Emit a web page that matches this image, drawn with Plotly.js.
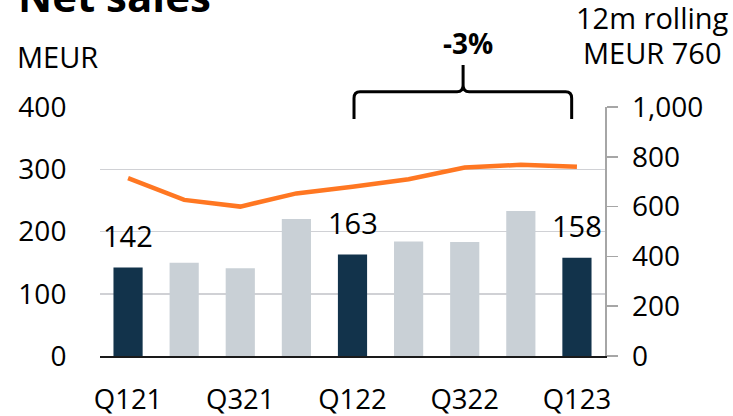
<!DOCTYPE html>
<html>
<head>
<meta charset="utf-8">
<script src="https://cdn.plot.ly/plotly-3.0.1.min.js"></script>
<style>
html,body{margin:0;padding:0;background:#fff;}
#chart{width:733px;height:416px;}
</style>
</head>
<body>
<div id="chart"></div>
<script>
// ---- data ----
const quarters = ['Q121','Q221','Q321','Q421','Q122','Q222','Q322','Q422','Q123'];
const netSales = [142, 150, 141, 220, 163, 184, 183, 233, 158];
const rolling12m = [714, 627, 600, 653, 680, 710, 757, 768, 760];
const xTickLabels = ['Q121','Q321','Q122','Q322','Q123'];
const leftTicks = [0, 100, 200, 300, 400];
const rightTicks = [0, 200, 400, 600, 800, 1000];
const changeText = '-3%';
const rollingText = ['12m rolling', 'MEUR 760'];

// ---- styles ----
const FONT = 'Open Sans, Noto Sans, sans-serif';
const DARK = '#12334b';
const GRAY = '#c9d0d6';
const ORANGE = '#ff7722';

const barColors = quarters.map(q => q.startsWith('Q1') ? DARK : GRAY);

const traces = [
  {
    type: 'bar', x: quarters, y: netSales,
    marker: {color: barColors}, hoverinfo: 'skip', showlegend: false
  },
  {
    type: 'scatter', mode: 'lines', x: quarters, y: rolling12m, yaxis: 'y2',
    line: {color: ORANGE, width: 4.5}, hoverinfo: 'skip', showlegend: false
  }
];

const annotations = [];
quarters.forEach((q, i) => {
  if (q.startsWith('Q1')) {
    annotations.push({
      x: q, y: netSales[i], xref: 'x', yref: 'y', text: String(netSales[i]),
      showarrow: false, xanchor: 'center', yanchor: 'bottom', yshift: 11,
      font: {family: FONT, size: 29, color: '#000'}
    });
  }
});
annotations.push(
  {xref: 'paper', yref: 'paper', x: -0.166, y: 1.447, xanchor: 'left', yanchor: 'middle',
   text: '<b>Net sales</b>', showarrow: false, font: {family: FONT, size: 42, color: '#000'}},
  {xref: 'paper', yref: 'paper', x: -0.168, y: 1.203, xanchor: 'left', yanchor: 'middle',
   text: 'MEUR', showarrow: false, font: {family: FONT, size: 29, color: '#000'}},
  {xref: 'paper', yref: 'paper', x: 1.095, y: 1.3612, xanchor: 'center', yanchor: 'middle',
   text: rollingText[0], showarrow: false, font: {family: FONT, size: 29, color: '#000'}},
  {xref: 'paper', yref: 'paper', x: 1.095, y: 1.2207, xanchor: 'center', yanchor: 'middle',
   text: rollingText[1], showarrow: false, font: {family: FONT, size: 29, color: '#000'}},
  {xref: 'paper', yref: 'paper', x: 0.729, y: 1.2554, xanchor: 'center', yanchor: 'middle',
   text: '<b>' + changeText + '</b>', showarrow: false, font: {family: FONT, size: 28, color: '#000'}}
);

// brace (paper coords)
const L = 0.503, R = 0.934, M = 0.719, YB = 1.0614, YE = 0.952, YT = 1.169;
const rx = 0.012, ry = 0.026;
const bracePath =
  `M ${L},${YE} L ${L},${YB-ry} Q ${L},${YB} ${L+rx},${YB} L ${M-rx},${YB} Q ${M},${YB} ${M},${YB+ry} L ${M},${YT} ` +
  `M ${M},${YB+ry} Q ${M},${YB} ${M+rx},${YB} L ${R-rx},${YB} Q ${R},${YB} ${R},${YB-ry} L ${R},${YE}`;

const layout = {
  width: 733, height: 416,
  margin: {l: 100, r: 128, t: 107, b: 60, pad: 0},
  paper_bgcolor: '#fff', plot_bgcolor: '#fff',
  font: {family: FONT, size: 28, color: '#000'},
  bargap: 0.48,
  showlegend: false,
  xaxis: {
    type: 'category', tickmode: 'array', tickvals: xTickLabels, ticktext: xTickLabels,
    showline: true, linecolor: '#1a1a1a', linewidth: 2,
    ticks: 'outside', ticklen: 18, tickcolor: 'rgba(0,0,0,0)',
    showgrid: false, zeroline: false,
    tickfont: {family: FONT, size: 27.5, color: '#000'}
  },
  yaxis: {
    range: [0, 400], tickmode: 'array', tickvals: leftTicks,
    showgrid: true, gridcolor: '#d0d1d5', gridwidth: 1.5,
    zeroline: false, showline: false,
    ticks: 'outside', ticklen: 27, tickcolor: 'rgba(0,0,0,0)',
    tickfont: {family: FONT, size: 28, color: '#000'}
  },
  yaxis2: {
    overlaying: 'y', side: 'right', range: [0, 1000],
    tickmode: 'array', tickvals: rightTicks, tickformat: ',',
    showgrid: false, zeroline: false,
    showline: true, linecolor: '#a6a6a6', linewidth: 1.5,
    ticks: 'outside', ticklen: 11, tickcolor: '#a6a6a6', tickwidth: 1.5,
    ticklabelstandoff: 9,
    tickfont: {family: FONT, size: 28, color: '#000'}
  },
  annotations: annotations,
  shapes: [{
    type: 'path', xref: 'paper', yref: 'paper', path: bracePath,
    line: {color: '#000', width: 3}
  }]
};

Plotly.newPlot('chart', traces, layout, {staticPlot: true, displayModeBar: false});
</script>
</body>
</html>
